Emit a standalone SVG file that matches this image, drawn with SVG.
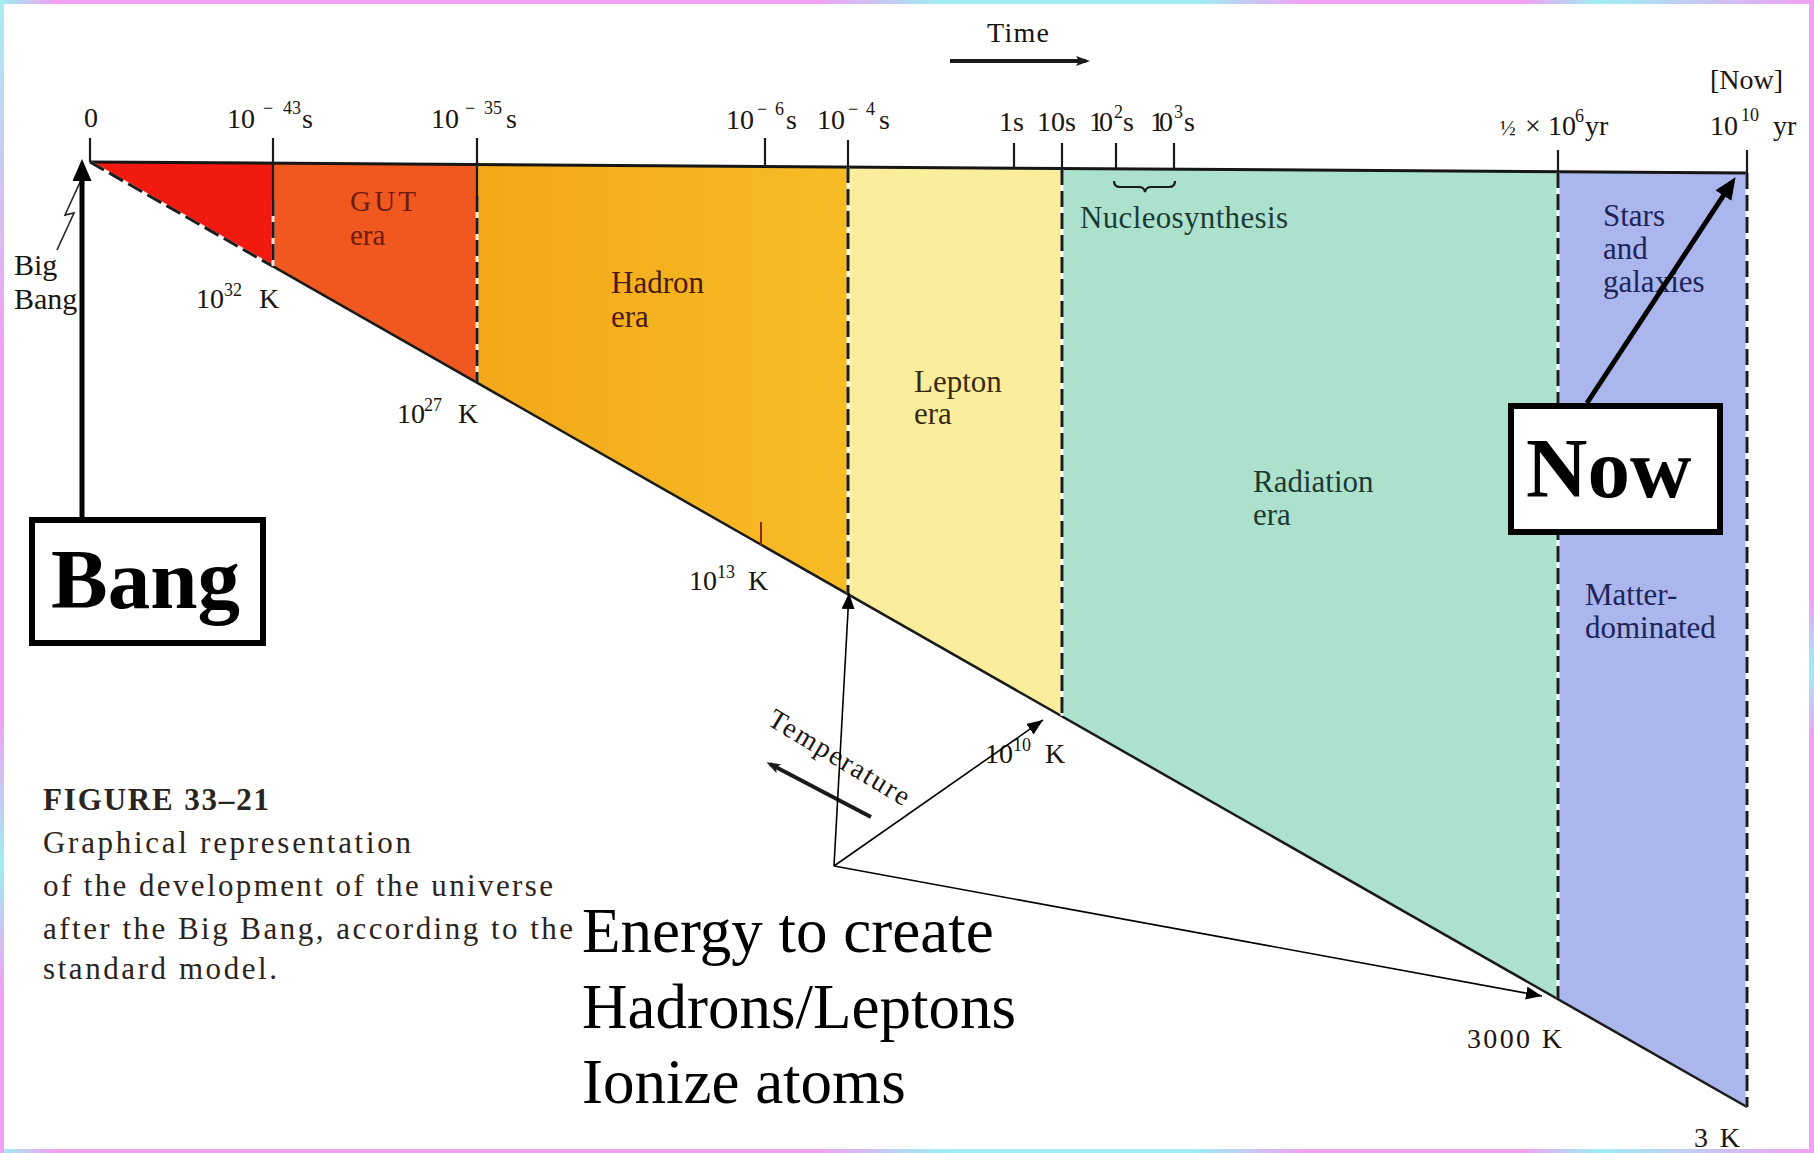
<svg xmlns="http://www.w3.org/2000/svg" width="1814" height="1153" viewBox="0 0 1814 1153">
<defs>
<style>
text{font-family:"Liberation Serif","Times New Roman",serif;fill:#1a1410}
.ax{font-size:28px}
.sup{font-size:18px}
.lbl{font-size:31px}
.tl{font-size:28px}
.tk{stroke:#1a1a1a;stroke-width:2.2;fill:none}
.axis{stroke:#161616;stroke-width:3;fill:none}
.diag{stroke:#1a1a1a;stroke-width:2.5;fill:none}
.bndw{stroke:#ffffff;stroke-width:3;fill:none;opacity:0.85}
.bnd{stroke:#1c1c1c;stroke-width:3;stroke-dasharray:16 6;fill:none}
.lead{stroke:#000;stroke-width:1.6;fill:none}
.box{fill:#fff;stroke:#000;stroke-width:6}
.big{font-size:85px;font-weight:bold;fill:#000}
.note{font-size:63px;fill:#000}
.cap{font-size:31px;fill:#2a2420}
.gut{fill:#6e1a0c;font-size:29px}
.had{fill:#4a1a08}
.lep{fill:#3a2a10}
.rad{fill:#1c3a34}
.mat{fill:#1e2458}
</style>
<linearGradient id="gHad" x1="0" y1="0" x2="1" y2="0">
<stop offset="0" stop-color="#f3a718"/><stop offset="1" stop-color="#f6bc26"/>
</linearGradient>
<linearGradient id="gTop" gradientUnits="userSpaceOnUse" x1="0" y1="0" x2="1814" y2="0">
<stop offset="0" stop-color="#9ff0f0"/><stop offset="0.03" stop-color="#f2a0f2"/><stop offset="0.45" stop-color="#f2a0f2"/><stop offset="0.52" stop-color="#9eeef4"/><stop offset="0.66" stop-color="#9eeef4"/><stop offset="0.72" stop-color="#f2a0f2"/><stop offset="0.84" stop-color="#f2a0f2"/><stop offset="0.88" stop-color="#9eeef4"/><stop offset="1" stop-color="#f2a0f2"/>
</linearGradient>
<linearGradient id="gLeft" gradientUnits="userSpaceOnUse" x1="0" y1="0" x2="0" y2="1153">
<stop offset="0" stop-color="#a8eef4"/><stop offset="0.3" stop-color="#f2a0f2"/><stop offset="0.62" stop-color="#f2a0f2"/><stop offset="0.75" stop-color="#9eeef4"/><stop offset="0.86" stop-color="#f2a0f2"/><stop offset="1" stop-color="#f2a0f2"/>
</linearGradient>
<linearGradient id="gRight" gradientUnits="userSpaceOnUse" x1="0" y1="0" x2="0" y2="1153">
<stop offset="0" stop-color="#f2a0f2"/><stop offset="0.52" stop-color="#f2a0f2"/><stop offset="0.58" stop-color="#9eeef4"/><stop offset="0.64" stop-color="#f2a0f2"/><stop offset="1" stop-color="#f2a0f2"/>
</linearGradient>
<marker id="ahS" viewBox="0 0 16 13" refX="16" refY="6.5" markerWidth="16" markerHeight="13" markerUnits="userSpaceOnUse" orient="auto"><path d="M0,0 L16,6.5 L0,13 z" fill="#000"/></marker>
<marker id="ahB" viewBox="0 0 22 19" refX="13" refY="9.5" markerWidth="22" markerHeight="19" markerUnits="userSpaceOnUse" orient="auto"><path d="M0,0 L22,9.5 L0,19 z" fill="#000"/></marker>
<marker id="ahT" viewBox="0 0 14 10" refX="10" refY="5" markerWidth="14" markerHeight="10" markerUnits="userSpaceOnUse" orient="auto"><path d="M0,0 L14,5 L0,10 L3,5 z" fill="#1a1a1a"/></marker>
</defs>

<rect x="0" y="0" width="1814" height="1153" fill="#ffffff"/>

<g id="frame">
<rect x="0" y="0" width="1814" height="4" fill="url(#gTop)"/>
<rect x="0" y="1149" width="1814" height="4" fill="url(#gTop)"/>
<rect x="0" y="0" width="4" height="1153" fill="url(#gLeft)"/>
<rect x="1809" y="0" width="5" height="1153" fill="url(#gRight)"/>
</g>

<g id="regions">
<polygon id="planck" points="90,162 273,163.2 273,266.4" fill="#f2190f"/>
<polygon id="gut-era" points="273,163.2 477,164.6 477,382.7 273,266.4" fill="#f0581f"/>
<polygon id="hadron-era" points="477,164.6 848,167 848,594.3 477,382.7" fill="url(#gHad)"/>
<polygon id="lepton-era" points="848,167 1062,168.5 1062,716.3 848,594.3" fill="#faee9c"/>
<polygon id="radiation-era" points="1062,168.5 1558,171.7 1558,999.2 1062,716.3" fill="#ace2cd"/>
<polygon id="matter-era" points="1558,171.7 1747,173 1747,1107 1558,999.2" fill="#aab6ec"/>
</g>

<g id="axes">
<line class="axis" x1="90" y1="162" x2="1747" y2="173"/>
<line class="bndw" x1="90" y1="162" x2="273" y2="266.4"/>
<line class="bnd" x1="90" y1="162" x2="273" y2="266.4"/>
<line class="diag" x1="273" y1="266.4" x2="1747" y2="1107"/>
<line class="tk" x1="90" y1="138" x2="90" y2="162"/>
<line class="tk" x1="273" y1="138" x2="273" y2="200"/>
<line class="tk" x1="477" y1="138" x2="477" y2="196"/>
<line class="tk" x1="765" y1="138" x2="765" y2="166"/>
<line class="tk" x1="848" y1="140" x2="848" y2="167"/>
<line class="tk" x1="1014" y1="143" x2="1014" y2="168"/>
<line class="tk" x1="1062" y1="143" x2="1062" y2="168.5"/>
<line class="tk" x1="1116" y1="143" x2="1116" y2="169"/>
<line class="tk" x1="1174" y1="143" x2="1174" y2="169"/>
<line class="tk" x1="1558" y1="150" x2="1558" y2="172"/>
<line class="tk" x1="1747" y1="150" x2="1747" y2="173"/>
<path class="tk" d="M1114,181 Q1114,187 1120,187 L1139,187 Q1144,187 1145,192 Q1146,187 1151,187 L1169,187 Q1175,187 1175,181"/>
<line stroke="#8a2a10" stroke-width="2" x1="761" y1="522" x2="761" y2="545"/>
</g>

<g id="boundaries">
<line class="bndw" x1="273" y1="200" x2="273" y2="266"/>
<line class="bnd" x1="273" y1="200" x2="273" y2="266"/>
<line class="bndw" x1="477" y1="196" x2="477" y2="382"/>
<line class="bnd" x1="477" y1="196" x2="477" y2="382"/>
<line class="bndw" x1="848" y1="167" x2="848" y2="594"/>
<line class="bnd" x1="848" y1="167" x2="848" y2="594"/>
<line class="bndw" x1="1062" y1="169" x2="1062" y2="716"/>
<line class="bnd" x1="1062" y1="169" x2="1062" y2="716"/>
<line class="bndw" x1="1558" y1="172" x2="1558" y2="999"/>
<line class="bnd" x1="1558" y1="172" x2="1558" y2="999"/>
<line class="bndw" x1="1747" y1="173" x2="1747" y2="1107"/>
<line class="bnd" x1="1747" y1="173" x2="1747" y2="1107"/>
</g>

<g id="time-labels" class="ax">
<text x="84" y="127">0</text>
<text y="128"><tspan x="227">10</tspan><tspan x="263" dy="-14" class="sup">−</tspan><tspan x="283" class="sup">43</tspan><tspan x="302" dy="14">s</tspan></text>
<text y="128"><tspan x="431">10</tspan><tspan x="465" dy="-14" class="sup">−</tspan><tspan x="484" class="sup">35</tspan><tspan x="506" dy="14">s</tspan></text>
<text y="129"><tspan x="726">10</tspan><tspan x="757" dy="-14" class="sup">−</tspan><tspan x="775" class="sup">6</tspan><tspan x="786" dy="14">s</tspan></text>
<text y="129"><tspan x="817">10</tspan><tspan x="848" dy="-14" class="sup">−</tspan><tspan x="866" class="sup">4</tspan><tspan x="879" dy="14">s</tspan></text>
<text y="131"><tspan x="999">1s</tspan><tspan x="1037">10s</tspan></text>
<text y="131"><tspan x="1089" textLength="24">10</tspan><tspan x="1114" dy="-13" class="sup">2</tspan><tspan x="1123" dy="13">s</tspan></text>
<text y="131"><tspan x="1150" textLength="23">10</tspan><tspan x="1174" dy="-13" class="sup">3</tspan><tspan x="1184" dy="13">s</tspan></text>
<text y="135"><tspan x="1500" font-size="21">½</tspan><tspan x="1525">×</tspan><tspan x="1548">10</tspan><tspan x="1575" dy="-13" class="sup">6</tspan><tspan x="1585" dy="13">yr</tspan></text>
<text y="135"><tspan x="1710">10</tspan><tspan x="1741" dy="-14" class="sup">10</tspan><tspan x="1773" dy="14">yr</tspan></text>
<text x="1710" y="89">[Now]</text>
<text x="987" y="42" textLength="62">Time</text>
</g>

<g id="era-labels" class="lbl">
<text class="gut" x="350" y="211" textLength="66">GUT</text>
<text class="gut" x="350" y="245">era</text>
<text class="had" x="611" y="293">Hadron</text>
<text class="had" x="611" y="327">era</text>
<text class="lep" x="914" y="392">Lepton</text>
<text class="lep" x="914" y="424">era</text>
<text class="rad" x="1080" y="228" textLength="208">Nucleosynthesis</text>
<text class="rad" x="1253" y="492">Radiation</text>
<text class="rad" x="1253" y="525">era</text>
<text class="mat" x="1603" y="226">Stars</text>
<text class="mat" x="1603" y="259">and</text>
<text class="mat" x="1603" y="292">galaxies</text>
<text class="mat" x="1585" y="605">Matter-</text>
<text class="mat" x="1585" y="638">dominated</text>
<text x="14" y="275" font-size="30">Big</text>
<text x="14" y="309" font-size="30">Bang</text>
<path d="M57,250 L74,213 L65,215 L81,180" stroke="#222" stroke-width="1.6" fill="none"/>
</g>

<g id="temperature-labels" class="tl">
<text y="308"><tspan x="196">10</tspan><tspan x="224" dy="-12" class="sup">32</tspan><tspan x="259" dy="12">K</tspan></text>
<text y="423"><tspan x="397">10</tspan><tspan x="424" dy="-12" class="sup">27</tspan><tspan x="458" dy="12">K</tspan></text>
<text y="590"><tspan x="689">10</tspan><tspan x="717" dy="-12" class="sup">13</tspan><tspan x="748" dy="12">K</tspan></text>
<text y="763"><tspan x="985">10</tspan><tspan x="1013" dy="-12" class="sup">10</tspan><tspan x="1045" dy="12">K</tspan></text>
<text x="1467" y="1048" textLength="95">3000 K</text>
<text x="1694" y="1147" textLength="46">3 K</text>
<text x="766" y="724" transform="rotate(31 766 724)" textLength="160">Temperature</text>
</g>

<g id="caption">
<text class="cap" x="43" y="810" font-weight="bold" textLength="226">FIGURE 33–21</text>
<text class="cap" x="43" y="853" textLength="368">Graphical representation</text>
<text class="cap" x="43" y="896" textLength="510">of the development of the universe</text>
<text class="cap" x="43" y="939" textLength="530">after the Big Bang, according to the</text>
<text class="cap" x="43" y="979" textLength="234">standard model.</text>
</g>

<g id="note">
<text class="note" x="582" y="952">Energy to create</text>
<text class="note" x="582" y="1028">Hadrons/Leptons</text>
<text class="note" x="582" y="1103">Ionize atoms</text>
</g>

<g id="bang-box">
<rect class="box" x="32" y="520" width="231" height="123"/>
<text class="big" x="51" y="608">Bang</text>
</g>

<g id="now-box">
<rect class="box" x="1511" y="406" width="209" height="126"/>
<text class="big" x="1526" y="497">Now</text>
</g>

<g id="connectors">
<line x1="950" y1="61" x2="1086" y2="61" stroke="#1a1a1a" stroke-width="4" marker-end="url(#ahT)"/>
<line x1="871" y1="817" x2="770" y2="764" stroke="#1a1a1a" stroke-width="4" marker-end="url(#ahT)"/>
<line x1="82" y1="517" x2="82" y2="168" stroke="#000" stroke-width="5" marker-end="url(#ahB)"/>
<line x1="1587" y1="403" x2="1730.6" y2="184.7" stroke="#000" stroke-width="5" marker-end="url(#ahB)"/>
<line class="lead" x1="834" y1="866" x2="849" y2="593" marker-end="url(#ahS)"/>
<line class="lead" x1="834" y1="866" x2="1043" y2="720" marker-end="url(#ahS)"/>
<line class="lead" x1="834" y1="866" x2="1542" y2="996" marker-end="url(#ahS)"/>
</g>
</svg>
